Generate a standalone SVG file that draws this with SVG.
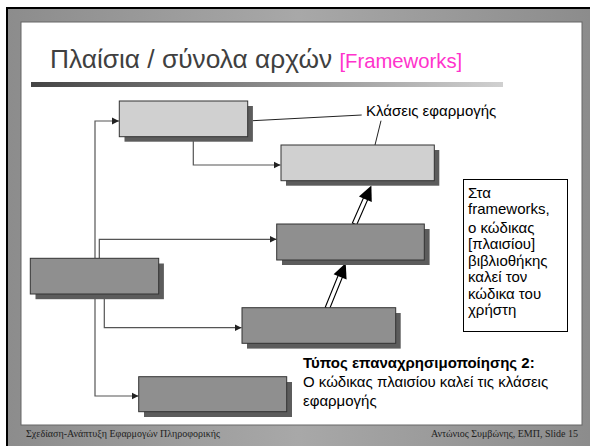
<svg xmlns="http://www.w3.org/2000/svg" width="590" height="446" viewBox="0 0 590 446">
<defs>
<linearGradient id="frameG" x1="0" y1="0" x2="1" y2="0">
<stop offset="0" stop-color="#8c8c8c"/>
<stop offset="0.5" stop-color="#a8a8a8"/>
<stop offset="1" stop-color="#8c8c8c"/>
</linearGradient>
<linearGradient id="ruleG" x1="0" y1="0" x2="1" y2="0">
<stop offset="0" stop-color="#444"/>
<stop offset="1" stop-color="#d0d0d0"/>
</linearGradient>
<marker id="ah" markerWidth="8" markerHeight="8" refX="7" refY="4" orient="auto" markerUnits="userSpaceOnUse">
<path d="M0,0.5 L7,4 L0,7.5 Z" fill="#222"/>
</marker>
<style>
.sh{fill:#5c5c5c}
.lt{fill:#d0d0d0;stroke:#333;stroke-width:1}
.dk{fill:#8f8f8f;stroke:#333;stroke-width:1}
.cn{fill:none;stroke:#555;stroke-width:1.2;marker-end:url(#ah)}
.ft{font-family:"Liberation Serif",serif;font-size:10px;fill:#222}
.tx{font-family:"Liberation Sans",Arial,sans-serif;font-size:15px;fill:#000}
</style>
</defs>
<rect x="0" y="0" width="590" height="446" fill="#fff"/>
<rect x="6" y="7" width="584" height="439" fill="url(#frameG)"/>
<path d="M7,446 V8 H590" fill="none" stroke="#000" stroke-width="2"/>
<rect x="21" y="22" width="561" height="403" fill="#fff" stroke="#666" stroke-width="1"/>
<text x="50" y="68" font-family="Liberation Sans,Arial,sans-serif" font-size="26.3" fill="#404040">Πλαίσια / σύνολα αρχών <tspan fill="#ff33cc" font-size="20.3">[Frameworks]</tspan></text>
<rect x="31" y="82" width="472" height="5" fill="url(#ruleG)"/>
<g id="connectors">
<path class="cn" d="M95,258 V121 H119"/>
<path class="cn" d="M99.3,258 V239.3 H276.5"/>
<path class="cn" d="M193.3,137 V165 H280.5"/>
<path class="cn" d="M104.3,294 V327.7 H241.5"/>
<path class="cn" d="M95,294 V396 H138.5"/>
<path d="M252.7,120.7 L361.7,115 M381,120.7 L375,145" fill="none" stroke="#222" stroke-width="1"/>
<g transform="translate(327.3,308.3) rotate(-67.9)">
<rect x="0" y="-2.3" width="35" height="4.6" fill="#fff" stroke="#000" stroke-width="1.1"/>
<polygon points="49,0 34,-7 34,7" fill="#000"/>
</g>
<g transform="translate(354.5,224) rotate(-66.3)">
<rect x="0" y="-2.3" width="28" height="4.6" fill="#fff" stroke="#000" stroke-width="1.1"/>
<polygon points="42,0 27,-7 27,7" fill="#000"/>
</g>
</g>
<g id="boxA"><rect class="sh" x="124.5" y="106" width="128.4" height="35.7"/><rect class="lt" x="119.3" y="101" width="128.4" height="35.7"/></g>
<g id="boxB"><rect class="sh" x="286" y="150" width="153.3" height="35.7"/><rect class="lt" x="281" y="145" width="153.3" height="35.7"/></g>
<g id="boxC"><rect class="sh" x="282" y="229" width="147.6" height="36"/><rect class="dk" x="276.7" y="224" width="147.6" height="36"/></g>
<g id="boxD"><rect class="sh" x="35.5" y="263.5" width="128.4" height="35.7"/><rect class="dk" x="30.3" y="258.3" width="128.4" height="35.7"/></g>
<g id="boxE"><rect class="sh" x="247" y="313" width="153.7" height="35.6"/><rect class="dk" x="242" y="307.7" width="153.7" height="35.6"/></g>
<g id="boxF"><rect class="sh" x="144" y="382" width="148" height="35"/><rect class="dk" x="138.7" y="376.7" width="148" height="35"/></g>
<g id="label"><text class="tx" x="366" y="116">Κλάσεις εφαρμογής</text></g>
<g id="note">
<rect x="463.5" y="179.5" width="104" height="152" fill="#fff" stroke="#000" stroke-width="1"/>
<text class="tx" x="468"><tspan x="468" y="198">Στα</tspan><tspan x="468" y="214">frameworks,</tspan><tspan x="468" y="233">ο κώδικας</tspan><tspan x="468" y="249">[πλαισίου]</tspan><tspan x="468" y="266">βιβλιοθήκης</tspan><tspan x="468" y="282">καλεί τον</tspan><tspan x="468" y="299">κώδικα του</tspan><tspan x="468" y="315">χρήστη</tspan></text>
</g>
<g id="caption">
<text class="tx" x="303" y="368" font-weight="bold" font-size="16">Τύπος επαναχρησιμοποίησης 2:</text>
<text class="tx" x="303" y="387" font-size="16">Ο κώδικας πλαισίου καλεί τις κλάσεις</text>
<text class="tx" x="303" y="406" font-size="16">εφαρμογής</text>
</g>
<text class="ft" x="26" y="437">Σχεδίαση-Ανάπτυξη Εφαρμογών Πληροφορικής</text>
<text class="ft" x="578" y="437" text-anchor="end">Αντώνιος Συμβώνης, ΕΜΠ, Slide 15</text>
</svg>
